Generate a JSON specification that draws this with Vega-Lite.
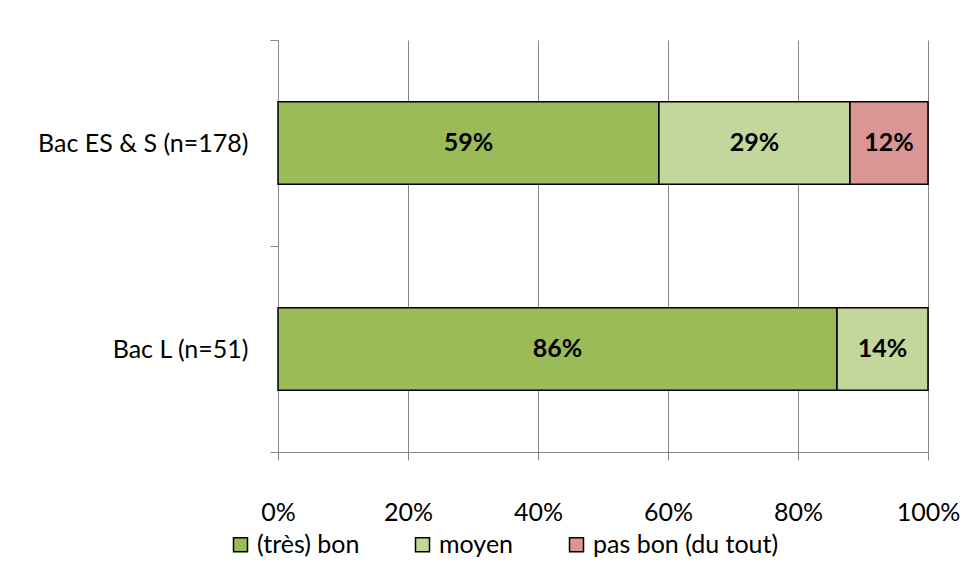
{
  "$schema": "https://vega.github.io/schema/vega-lite/v6.json",
  "width": 650,
  "height": 412,
  "autosize": {"type": "none"},
  "padding": {"left": 278, "top": 40, "right": 51, "bottom": 130},
  "background": "white",
  "config": {"font": "Lato", "view": {"stroke": null}},
  "data": {
    "values": [
      {"groupe": "Bac ES & S (n=178)", "rep": "(très) bon", "ordre": 1, "part": 0.586},
      {"groupe": "Bac ES & S (n=178)", "rep": "moyen", "ordre": 2, "part": 0.294},
      {"groupe": "Bac ES & S (n=178)", "rep": "pas bon (du tout)", "ordre": 3, "part": 0.12},
      {"groupe": "Bac L (n=51)", "rep": "(très) bon", "ordre": 1, "part": 0.86},
      {"groupe": "Bac L (n=51)", "rep": "moyen", "ordre": 2, "part": 0.14}
    ]
  },
  "encoding": {
    "y": {
      "field": "groupe",
      "type": "nominal",
      "sort": ["Bac ES & S (n=178)", "Bac L (n=51)"],
      "scale": {"paddingInner": 0, "paddingOuter": 0},
      "axis": {
        "title": null,
        "tickBand": "extent",
        "domainColor": "#868686",
        "tickColor": "#868686",
        "tickSize": 8,
        "labelFontSize": 25,
        "labelPadding": 22,
        "labelColor": "black",
        "labelFont": "Lato",
        "labelLimit": 300
      }
    },
    "x": {
      "field": "part",
      "type": "quantitative",
      "stack": "zero",
      "scale": {"domain": [0, 1]},
      "axis": {
        "title": null,
        "format": ".0%",
        "values": [0, 0.2, 0.4, 0.6, 0.8, 1],
        "grid": true,
        "gridColor": "#868686",
        "domainColor": "#868686",
        "tickColor": "#868686",
        "tickSize": 8,
        "labelFontSize": 25,
        "labelPadding": 40,
        "labelFlush": false,
        "labelColor": "black",
        "labelFont": "Lato"
      }
    },
    "order": {"field": "ordre", "type": "quantitative"}
  },
  "layer": [
    {
      "mark": {"type": "bar", "height": {"band": 0.4}, "stroke": "black", "strokeWidth": 1.5},
      "encoding": {
        "color": {
          "field": "rep",
          "type": "nominal",
          "scale": {
            "domain": ["(très) bon", "moyen", "pas bon (du tout)"],
            "range": ["#9BBB59", "#C3D69B", "#D99694"]
          },
          "legend": {
            "title": null,
            "orient": "none",
            "legendX": -50,
            "legendY": 492,
            "direction": "horizontal",
            "symbolType": "square",
            "symbolSize": 196,
            "symbolStrokeColor": "black",
            "symbolStrokeWidth": 1.5,
            "labelFontSize": 25,
            "labelFont": "Lato",
            "labelColor": "black",
            "labelOffset": 4,
            "labelLimit": 400,
            "columnPadding": 50
          }
        }
      }
    },
    {
      "mark": {"type": "text", "fontSize": 25, "fontWeight": "bold", "color": "black", "font": "Lato"},
      "encoding": {
        "x": {"field": "part", "type": "quantitative", "stack": "zero", "bandPosition": 0.5},
        "text": {"field": "part", "type": "quantitative", "format": ".0%"}
      }
    }
  ]
}
